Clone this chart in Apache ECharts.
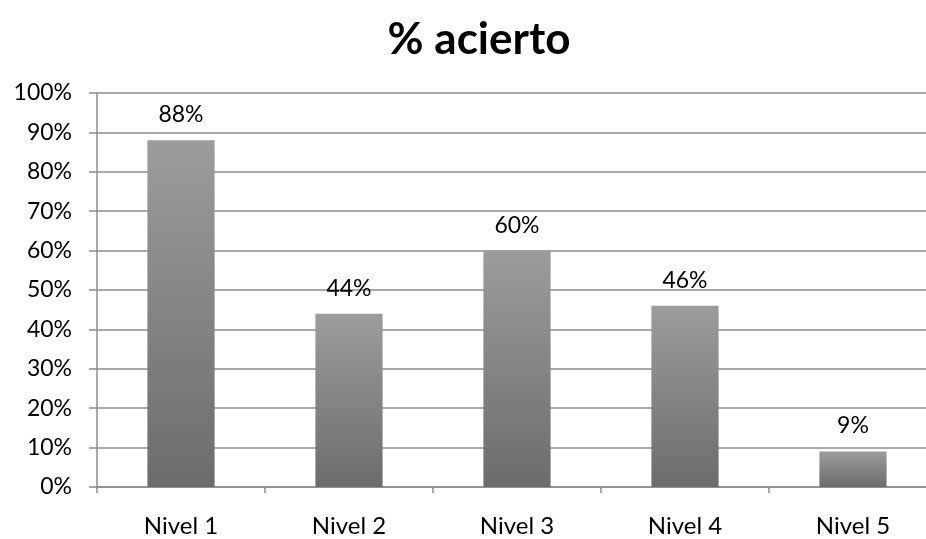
<!DOCTYPE html>
<html>
<head>
<meta charset="utf-8">
<script src="https://cdn.jsdelivr.net/npm/echarts@6/dist/echarts.min.js"></script>
<style>
  html, body { margin: 0; padding: 0; background: #fff; }
  #chart { width: 926px; height: 539px; }
</style>
</head>
<body>
<div id="chart"></div>
<script>
// datos
var categorias = ['Nivel 1', 'Nivel 2', 'Nivel 3', 'Nivel 4', 'Nivel 5'];
var acierto = [88, 44, 60, 46, 9];
var titulo = '% acierto';

var chartDom = document.getElementById('chart');
var myChart = echarts.init(chartDom, null, { devicePixelRatio: 1 });

var fuente = 'Lato, "Open Sans", sans-serif';

var option = {
  animation: false,
  title: {
    text: titulo,
    left: 474,
    textAlign: 'center',
    top: 13,
    textStyle: { fontFamily: fuente, fontSize: 44, fontWeight: 'bold', color: '#000' }
  },
  grid: {
    left: 97,
    width: 840,
    top: 93,
    height: 394,
    containLabel: false,
    outerBoundsMode: 'none'
  },
  xAxis: {
    type: 'category',
    data: categorias,
    axisLine: { show: true, lineStyle: { color: '#8c8c8c', width: 1.5 } },
    axisTick: { show: true, length: 6, lineStyle: { color: '#8c8c8c', width: 1.5 } },
    axisLabel: { margin: 27, color: '#000', fontFamily: fuente, fontSize: 24 }
  },
  yAxis: {
    type: 'value',
    min: 0,
    max: 100,
    interval: 10,
    axisLine: { show: true, lineStyle: { color: '#8c8c8c', width: 1.5 } },
    axisTick: { show: true, length: 8, lineStyle: { color: '#8c8c8c', width: 1.5 } },
    splitLine: { show: true, lineStyle: { color: '#8c8c8c', width: 1.5 } },
    axisLabel: {
      margin: 25,
      color: '#000',
      fontFamily: fuente,
      fontSize: 23,
      formatter: '{value}%'
    }
  },
  series: [
    {
      type: 'bar',
      data: acierto,
      barWidth: '40%',
      itemStyle: {
        color: new echarts.graphic.LinearGradient(0, 0, 0, 1, [
          { offset: 0, color: '#9c9c9c' },
          { offset: 1, color: '#6c6c6c' }
        ])
      },
      label: {
        show: true,
        position: 'top',
        distance: 14,
        formatter: '{c}%',
        color: '#000',
        fontFamily: fuente,
        fontSize: 23
      }
    }
  ]
};

option && myChart.setOption(option);
</script>
</body>
</html>
